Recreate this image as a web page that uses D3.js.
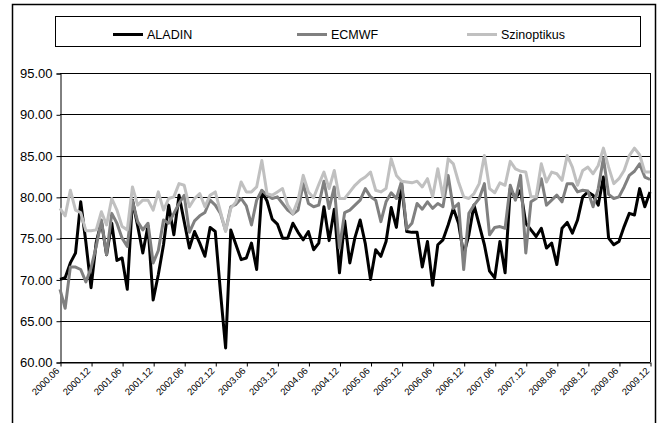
<!DOCTYPE html>
<html><head><meta charset="utf-8">
<script src="https://cdn.jsdelivr.net/npm/d3@7"></script>
<style>body{margin:0;background:#fff}svg{display:block}</style>
</head><body><svg id="c" width="659" height="423"></svg>
<script>
const seriesNames = ["ALADIN", "ECMWF", "Szinoptikus"];
const seriesColors = ["#000000", "#808080", "#c0c0c0"];
const aladin = [70.0,70.2,72.0,73.2,79.4,74.5,69.0,74.5,77.0,73.0,76.8,72.3,72.6,68.8,79.6,76.5,73.2,76.5,67.5,70.6,74.2,79.0,75.4,80.2,
77.0,73.8,75.8,74.4,72.8,76.3,75.8,68.5,61.7,76.0,74.2,72.4,72.6,74.4,71.2,80.7,79.5,77.3,76.7,75.0,75.0,76.8,75.7,74.8,
75.8,73.6,74.4,78.8,74.7,78.5,70.8,77.1,72.0,75.1,77.2,74.3,70.0,73.6,72.8,74.6,78.7,76.3,81.5,75.8,75.7,75.7,71.5,74.6,
69.3,74.2,74.8,76.6,78.6,76.8,73.0,75.4,79.0,76.6,74.2,71.0,70.2,74.6,70.8,81.0,79.8,80.8,76.8,76.0,75.2,76.2,73.8,74.4,
71.8,76.2,76.9,75.6,77.2,80.0,80.6,80.2,79.0,82.4,75.0,74.2,74.6,76.4,78.0,77.8,81.0,78.8,80.6];
const ecmwf = [68.8,66.5,71.5,71.5,71.2,69.7,71.4,74.0,77.2,73.0,78.0,76.8,75.0,74.0,79.5,77.0,76.0,76.8,72.0,73.5,77.2,76.8,78.0,79.2,
80.2,75.7,77.1,77.7,78.1,79.6,79.0,78.0,75.9,78.8,79.1,79.8,78.9,76.6,79.6,80.8,80.2,79.8,80.0,79.2,78.4,77.9,78.4,81.6,
79.2,78.8,79.0,81.9,78.6,81.2,73.8,78.1,78.4,79.0,79.6,81.0,80.0,79.6,77.0,79.4,80.5,79.8,81.9,76.1,76.8,79.2,78.5,79.4,
78.6,79.2,78.8,82.6,78.6,79.2,71.2,78.0,79.0,79.8,81.6,75.4,76.3,76.4,76.2,81.4,79.6,82.6,73.2,79.4,79.8,82.2,79.0,79.6,
80.2,79.4,81.6,81.6,80.6,80.8,80.7,78.8,81.0,84.7,80.3,79.8,80.0,81.2,82.6,83.1,84.0,82.4,82.1];
const szinoptikus = [78.6,77.7,80.8,78.4,78.1,75.9,75.9,76.0,78.2,76.6,79.8,78.4,76.4,76.0,81.2,79.0,79.6,79.6,78.4,80.6,78.4,79.8,80.0,81.6,
81.4,78.8,79.8,80.4,78.8,80.2,80.6,78.2,75.8,78.6,79.4,81.8,80.6,80.6,81.2,84.4,80.4,80.2,80.6,81.0,79.0,78.0,79.6,82.6,
80.6,79.9,81.5,83.0,81.0,83.2,79.8,79.8,80.6,81.4,82.0,82.4,83.0,80.8,80.6,81.0,84.6,82.6,81.9,81.8,81.7,81.9,81.2,82.2,
80.0,83.4,80.0,84.6,84.0,81.8,80.0,79.8,80.4,81.6,85.0,81.0,80.5,81.7,81.4,84.3,83.4,83.1,83.0,80.0,80.0,84.0,81.8,83.0,
82.8,82.0,85.0,83.6,81.4,83.2,83.6,82.8,83.8,85.9,83.6,81.6,82.2,83.2,85.0,85.9,85.1,83.0,83.0];
const tickLabels = ["2000.06","2000.12","2001.06","2001.12","2002.06","2002.12","2003.06","2003.12","2004.06","2004.12",
"2005.06","2005.12","2006.06","2006.12","2007.06","2007.12","2008.06","2008.12","2009.06","2009.12"];
const yTicks = [60, 65, 70, 75, 80, 85, 90, 95];

const months = [];
for (let yr = 2000; yr <= 2009; yr++) for (let m = 1; m <= 12; m++) {
  if (yr === 2000 && m < 6) continue;
  months.push(yr + "." + String(m).padStart(2, "0"));
}
const series = [aladin, ecmwf, szinoptikus];

const svg = d3.select("#c");
const L = 60, R = 650, T = 73, B = 362;
const FONT = "Liberation Sans, Arial, sans-serif";
const x = d3.scalePoint().domain(months).range([L, R]);
const y = d3.scaleLinear().domain([60, 95]).range([B, T]);

// outer border
svg.append("rect").attr("x", 12.5).attr("y", 4.5).attr("width", 643).attr("height", 440)
  .attr("fill", "#fff").attr("stroke", "#000").attr("stroke-width", 1.5);

// gridlines
svg.append("g").selectAll("line").data(yTicks).join("line")
  .attr("x1", L).attr("x2", R).attr("y1", d => Math.round(y(d)) + 0.5).attr("y2", d => Math.round(y(d)) + 0.5)
  .attr("stroke", "#000").attr("stroke-width", 1);
// plot border right
svg.append("line").attr("x1", R + 0.5).attr("x2", R + 0.5).attr("y1", T).attr("y2", B)
  .attr("stroke", "#000").attr("stroke-width", 1);

// y axis
const yAxis = svg.append("g").attr("transform", `translate(${L + 0.5},0.5)`)
  .call(d3.axisLeft(y).tickValues(yTicks).tickSize(4).tickPadding(4).tickFormat(d3.format(".2f")));
yAxis.select(".domain").attr("stroke", "#000");
yAxis.selectAll("text").attr("font-family", FONT).attr("font-size", 13).attr("fill", "#000");

// x axis
const xAxis = svg.append("g").attr("transform", `translate(0.5,${B + 0.5})`)
  .call(d3.axisBottom(x).tickValues(tickLabels).tickSize(4).tickSizeOuter(0));
xAxis.select(".domain").attr("stroke", "#000");
xAxis.selectAll("text")
  .attr("font-family", FONT).attr("font-size", 9.5).attr("fill", "#000")
  .attr("text-anchor", "end").attr("dy", null).attr("y", 0)
  .attr("transform", "translate(-1,9) rotate(-45)");

// lines
const line = d3.line().x((d, i) => x(months[i])).y(d => y(d));
svg.append("g").selectAll("path").data(series).join("path")
  .attr("d", line).attr("fill", "none")
  .attr("stroke", (d, i) => seriesColors[i]).attr("stroke-width", 3)
  .attr("stroke-linejoin", "round");

// legend
svg.append("rect").attr("x", 55.5).attr("y", 16.5).attr("width", 585).attr("height", 30)
  .attr("fill", "#fff").attr("stroke", "#000").attr("stroke-width", 1);
const legX = [113, 297, 467];
const lg = svg.append("g").selectAll("g").data(seriesNames).join("g")
  .attr("transform", (d, i) => `translate(${legX[i]},34.5)`);
lg.append("line").attr("x1", 0).attr("x2", 30).attr("y1", 0).attr("y2", 0)
  .attr("stroke", (d, i) => seriesColors[i]).attr("stroke-width", 3);
lg.append("text").attr("x", 34).attr("y", 4.5).text(d => d)
  .attr("font-family", FONT).attr("font-size", 12.5).attr("fill", "#000");
</script></body></html>
